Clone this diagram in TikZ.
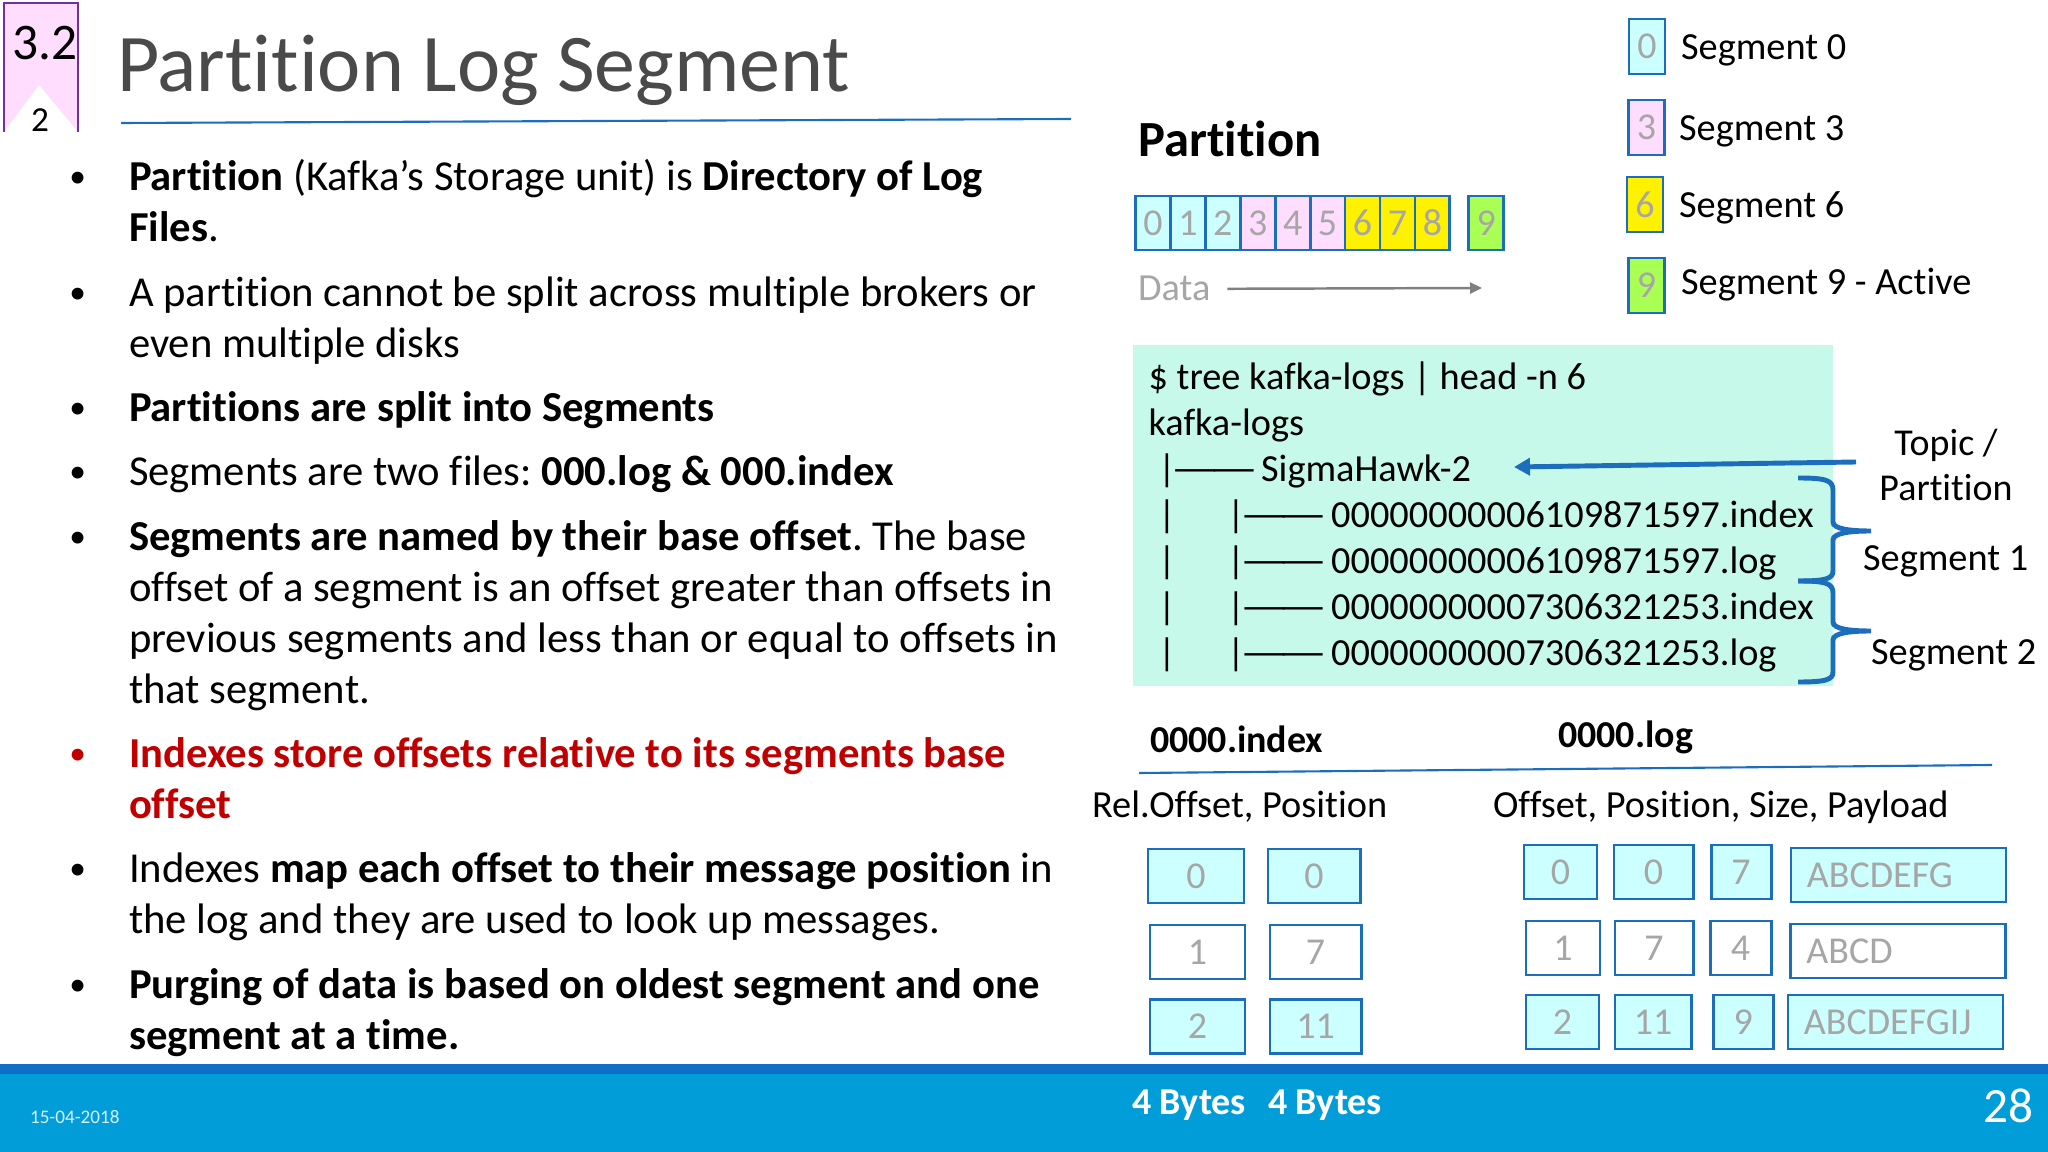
\documentclass[tikz,border=0pt]{standalone}
\usepackage{fontspec}
\setmainfont{Carlito}[Ligatures=NoCommon]
\usetikzlibrary{arrows.meta,positioning}
\definecolor{cyanbg}{HTML}{CCFFFF}
\definecolor{pinkbg}{HTML}{FFDDFF}
\definecolor{lime}{HTML}{AAFF55}
\definecolor{mint}{HTML}{C6F9E9}
\definecolor{edge}{HTML}{1C6DBB}
\definecolor{digit}{HTML}{A6A6A6}
\definecolor{barlight}{HTML}{009DD9}
\definecolor{bardark}{HTML}{0F6FC6}
\definecolor{redtxt}{HTML}{C00000}
\definecolor{titletxt}{HTML}{4A4A4A}
\definecolor{tabline}{HTML}{7030A0}
\newcommand{\bul}{\llap{\raisebox{.03cm}{\fontsize{9.5}{9.5}\selectfont •}\hspace{.43cm}}}
\newcommand{\dsh}{\kern-.05cm\scalebox{1.42}[1]{—\kern-.2em—}}
\frenchspacing
\begin{document}
\begin{tikzpicture}[x=.01cm,y=-.01cm,semithick]
\tikzstyle{cell}=[draw=edge,line width=.8pt,text=digit,inner sep=0pt,outer sep=0pt,minimum height=.54cm,font=\fontsize{10.8}{13}\selectfont]
\tikzstyle{pcell}=[cell,minimum width=.349cm]
\tikzstyle{seg}=[cell,minimum width=.36cm,minimum height=.55cm]
\tikzstyle{pay}=[cell,inner xsep=.16cm,text width=1.83cm,align=flush left]
\tikzstyle{txt}=[inner sep=0pt,anchor=base west,font=\fontsize{10.9}{13}\selectfont]
\tikzstyle{hdr}=[txt,font=\fontsize{10.8}{13}\selectfont\bfseries]
\tikzstyle{brc}=[edge,line width=1.4pt]
\tikzstyle{item}=[inner sep=0pt,outer sep=0pt,anchor=north west,text width=10cm,align=flush left,font=\fontsize{12.13}{14.51}\selectfont,execute at begin node=\strut,execute at end node=\strut]
\useasboundingbox (0,0) rectangle (2048,1152);
% tab and title
\fill[pinkbg] (4,3) rectangle (78,132);
\fill[white] (4,132) -- (39,85) -- (78,132) -- cycle;
\draw[tabline,line width=.6pt] (4,132) -- (4,3) -- (78,3) -- (78,132);
\node[txt,font=\fontsize{14.6}{16}\selectfont] (sec) at (11,60) {3.2};
\node[txt,font=\fontsize{10}{12}\selectfont] (sub) at (30,132) {2};
\node[txt,font=\fontsize{23.3}{28}\selectfont,text=titletxt] (title) at (116,92) {Partition Log Segment};
\coordinate (t0) at (121,123);
\coordinate (t1) at (1071,119);
\draw[edge,line width=.6pt] (t0) -- (t1);
% bullets
\node[item] (p1) at (129,155) {\bul\textbf{Partition} (Kafka’s Storage unit) is \textbf{Directory of Log}\\\textbf{Files}.};
\node[item][below=.133cm of p1] (p2) {\bul A partition cannot be split across multiple brokers or\\even multiple disks};
\node[item][below=.133cm of p2] (p3) {\bul\textbf{Partitions are split into Segments}};
\node[item][below=.133cm of p3] (p4) {\bul Segments are two files: \textbf{000.log \& 000.index}};
\node[item][below=.133cm of p4] (p5) {\bul\textbf{Segments are named by their base offset}. The base\\offset of a segment is an offset greater than offsets in\\previous segments and less than or equal to offsets in\\that segment.};
\node[item,text=redtxt][below=.133cm of p5] (p6) {\bul\textbf{Indexes store offsets relative to its segments base}\\\textbf{offset}};
\node[item][below=.133cm of p6] (p7) {\bul Indexes \textbf{map each offset to their message position} in\\the log and they are used to look up messages.};
\node[item][below=.133cm of p7] (p8) {\bul\textbf{Purging of data is based on oldest segment and one}\\\textbf{segment at a time.}};
% partition strip
\node[txt,font=\fontsize{14.4}{17}\selectfont\bfseries] (part) at (1137,157) {Partition};
\node[pcell,fill=cyanbg] (c0) at (1153,223) {0};
\node[pcell,fill=cyanbg][right=0pt of c0] (c1) {1};
\node[pcell,fill=cyanbg][right=0pt of c1] (c2) {2};
\node[pcell,fill=pinkbg][right=0pt of c2] (c3) {3};
\node[pcell,fill=pinkbg][right=0pt of c3] (c4) {4};
\node[pcell,fill=pinkbg][right=0pt of c4] (c5) {5};
\node[pcell,fill=yellow][right=0pt of c5] (c6) {6};
\node[pcell,fill=yellow][right=0pt of c6] (c7) {7};
\node[pcell,fill=yellow][right=0pt of c7] (c8) {8};
\node[pcell,fill=lime][right=.19cm of c8] (c9) {9};
\node[txt,text=digit] (data) at (1137,301) {Data};
\coordinate (dend) at (1482,288);
\draw[-{Triangle[length=.12cm,width=.11cm]},draw=gray,line width=.7pt,shorten <=.16cm] (data.east) -- (dend);
% legend
\node[seg,fill=cyanbg] (l0) at (1647,46.5) {0};
\node[seg,fill=pinkbg] (l3) at (1646.5,127.5) {3};
\node[seg,fill=yellow] (l6) at (1645,204.5) {6};
\node[seg,fill=lime] (l9) at (1646.5,285.5) {9};
\node[txt] (n0) at (1680,59.5) {Segment 0};
\node[txt] (n3) at (1678,140.5) {Segment 3};
\node[txt] (n6) at (1678,217.5) {Segment 6};
\node[txt] (n9) at (1680,294.5) {Segment 9 - Active};
% tree listing
\node[fill=mint,inner sep=0pt,outer sep=0pt,minimum width=7cm,minimum height=3.41cm,anchor=north west] (box) at (1133,345) {};
\node[inner sep=0pt,anchor=north west,align=left,font=\fontsize{10.9}{13.09}\selectfont,execute at begin node=\strut,execute at end node=\strut] (tree) at (1147.5,361) {\$ tree kafka-logs | head -n 6\\kafka-logs\\
\hspace*{.095cm}\makebox[1.03cm][l]{|\dsh}SigmaHawk-2\\
\hspace*{.095cm}\makebox[.69cm][l]{|}\makebox[1.04cm][l]{|\dsh}00000000006109871597.index\\
\hspace*{.095cm}\makebox[.69cm][l]{|}\makebox[1.04cm][l]{|\dsh}00000000006109871597.log\\
\hspace*{.095cm}\makebox[.69cm][l]{|}\makebox[1.04cm][l]{|\dsh}00000000007306321253.index\\
\hspace*{.095cm}\makebox[.69cm][l]{|}\makebox[1.04cm][l]{|\dsh}00000000007306321253.log};
\node[txt,anchor=center,align=center,font=\fontsize{10.8}{12.8}\selectfont] (topic) at (1946,465) {Topic /\\Partition};
\node[txt] (s1) at (1862,570.5) {Segment 1};
\node[txt] (s2) at (1870,664.5) {Segment 2};
\coordinate (a0) at (1856,462);
\coordinate (a1) at (1514,467);
\draw[-{Triangle[length=.16cm,width=.17cm]},draw=edge,line width=1.4pt] (a0) -- (a1);
\coordinate (b0) at (1798,478);
\coordinate (b1) at (1798,581);
\coordinate (b2) at (1798,682);
\draw[brc] (b0) .. controls (1825,478) and (1833,480) .. (1833,490) -- (1833,522) .. controls (1833,529) and (1850,531) .. (1871,531) .. controls (1850,531) and (1833,533) .. (1833,540) -- (1833,571) .. controls (1833,579) and (1825,581) .. (b1);
\draw[brc] (b1) .. controls (1825,581) and (1833,583) .. (1833,593) -- (1833,622) .. controls (1833,629) and (1850,631) .. (1871,631) .. controls (1850,631) and (1833,633) .. (1833,640) -- (1833,672) .. controls (1833,680) and (1825,682) .. (b2);
% index and log tables
\node[hdr] (idx) at (1149,752.5) {0000.index};
\node[hdr] (lg) at (1557,747.5) {0000.log};
\coordinate (r0) at (1139,773);
\coordinate (r1) at (1992,765);
\draw[edge,line width=.6pt] (r0) -- (r1);
\node[txt] (h1) at (1091,817.5) {Rel.Offset, Position};
\node[txt] (h2) at (1492,817.5) {Offset, Position, Size, Payload};
\node[cell,fill=cyanbg,minimum width=.96cm] (a00) at (1196,876) {0};
\node[cell,fill=cyanbg,minimum width=.92cm][right=.24cm of a00] (a01) {0};
\node[cell,minimum width=.95cm] (a10) at (1197.5,952) {1};
\node[cell,minimum width=.91cm][right=.25cm of a10] (a11) {7};
\node[cell,fill=cyanbg,minimum width=.95cm] (a20) at (1197.5,1026.5) {2};
\node[cell,fill=cyanbg,minimum width=.91cm][right=.25cm of a20] (a21) {11};
\node[cell,fill=cyanbg,minimum width=.73cm] (o00) at (1560.5,872) {0};
\node[cell,fill=cyanbg,minimum width=.79cm][right=.17cm of o00] (o01) {0};
\node[cell,fill=cyanbg,minimum width=.60cm][right=.18cm of o01] (o02) {7};
\node[pay,fill=cyanbg] (o03) at (1898.5,875) {ABCDEFG};
\node[cell,minimum width=.74cm] (o10) at (1563,948) {1};
\node[cell,minimum width=.78cm][right=.15cm of o10] (o11) {7};
\node[cell,minimum width=.61cm][right=.17cm of o11] (o12) {4};
\node[pay] (o13) at (1898,951) {ABCD};
\node[cell,fill=cyanbg,minimum width=.73cm] (o20) at (1562.5,1022) {2};
\node[cell,fill=cyanbg,minimum width=.76cm][right=.16cm of o20] (o21) {11};
\node[cell,fill=cyanbg,minimum width=.60cm][right=.22cm of o21] (o22) {9};
\node[pay,fill=cyanbg] (o23) at (1895.5,1022) {ABCDEFGIJ};
% footer
\fill[bardark] (0,1064) rectangle (2048,1074);
\fill[barlight] (0,1074) rectangle (2048,1152);
\node[txt,text=white!85!barlight,font=\fontsize{5.45}{7}\selectfont] (date) at (29,1123) {15-04-2018};
\node[hdr,text=white] (b4a) at (1131,1114) {4 Bytes};
\node[hdr,text=white] (b4b) at (1267,1114) {4 Bytes};
\node[txt,text=white,font=\fontsize{14}{16}\selectfont] (pg) at (1982,1122) {28};
\end{tikzpicture}
\end{document}
